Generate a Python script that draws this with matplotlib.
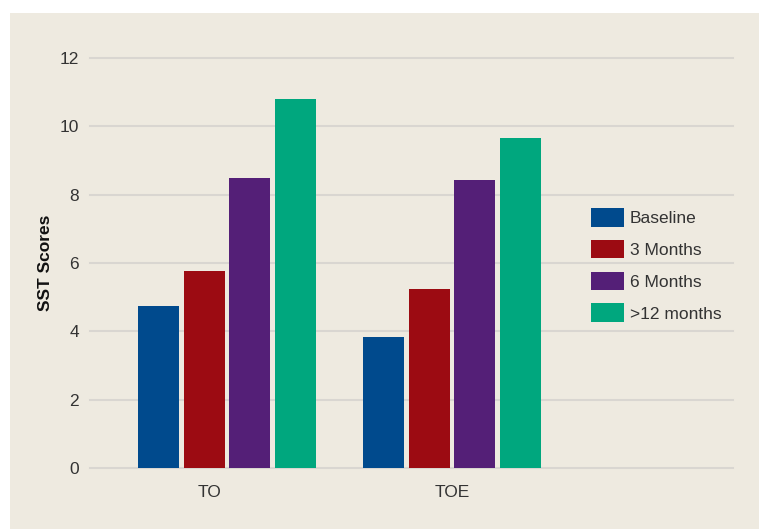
import numpy as np
import matplotlib.pyplot as plt
from matplotlib.patches import Rectangle

# SST scores by group and follow-up time
categories = ['TO', 'TOE']
series = ['Baseline', '3 Months', '6 Months', '>12 months']
baseline = [4.75, 3.84]
months_3 = [5.78, 5.24]
months_6 = [8.5, 8.44]
months_12 = [10.8, 9.67]
colors = ['#004a8d', '#9c0b12', '#541f77', '#00a77e']

plt.rcParams['font.family'] = ['Liberation Sans', 'DejaVu Sans']

fig = plt.figure(figsize=(7.59, 5.29), dpi=100)
fig.patch.set_facecolor('white')
fig.patches.append(Rectangle((10/759, 0), 1, 1 - 13/529, transform=fig.transFigure,
                             facecolor='#eeeae0', edgecolor='none', zorder=-10))

ax = fig.add_axes([90/759, 1 - 468/529, 643/759, 410/529])
ax.set_facecolor('none')

x = np.arange(len(categories))
width = 0.182
step = 0.203
values = [baseline, months_3, months_6, months_12]
for i, (name, vals) in enumerate(zip(series, values)):
    ax.bar(x + (i - 1.5) * step, vals, width, color=colors[i], label=name, zorder=3)

ax.set_ylim(0, 12)
ax.set_xlim(-0.609, 2.249)
ax.set_yticks(range(0, 13, 2))
ax.set_xticks(x + np.array([-0.08, 0]))
ax.set_xticklabels(categories)
ax.grid(axis='y', color='#d9d6d1', linewidth=1.5, zorder=0)
ax.set_axisbelow(True)
for s in ax.spines.values():
    s.set_visible(False)
ax.tick_params(axis='y', length=0, pad=8, labelsize=12.5, labelcolor='#333333')
ax.tick_params(axis='x', length=0, pad=12, labelsize=12.5, labelcolor='#333333')
for gl in ax.get_ygridlines():
    gl.set_clip_on(False)

ax.set_ylabel('SST Scores', fontweight='bold', fontsize=12.5, color='#111111')
ax.yaxis.set_label_coords(-0.057, 0.5)

fig.legend(loc='center left', bbox_to_anchor=(575/759, 1 - 265/529), frameon=False,
           fontsize=12.5, handlelength=1.9, handleheight=1.3, labelspacing=0.75,
           handletextpad=0.35, labelcolor='#333333')

fig.savefig('out.png', dpi=100)
